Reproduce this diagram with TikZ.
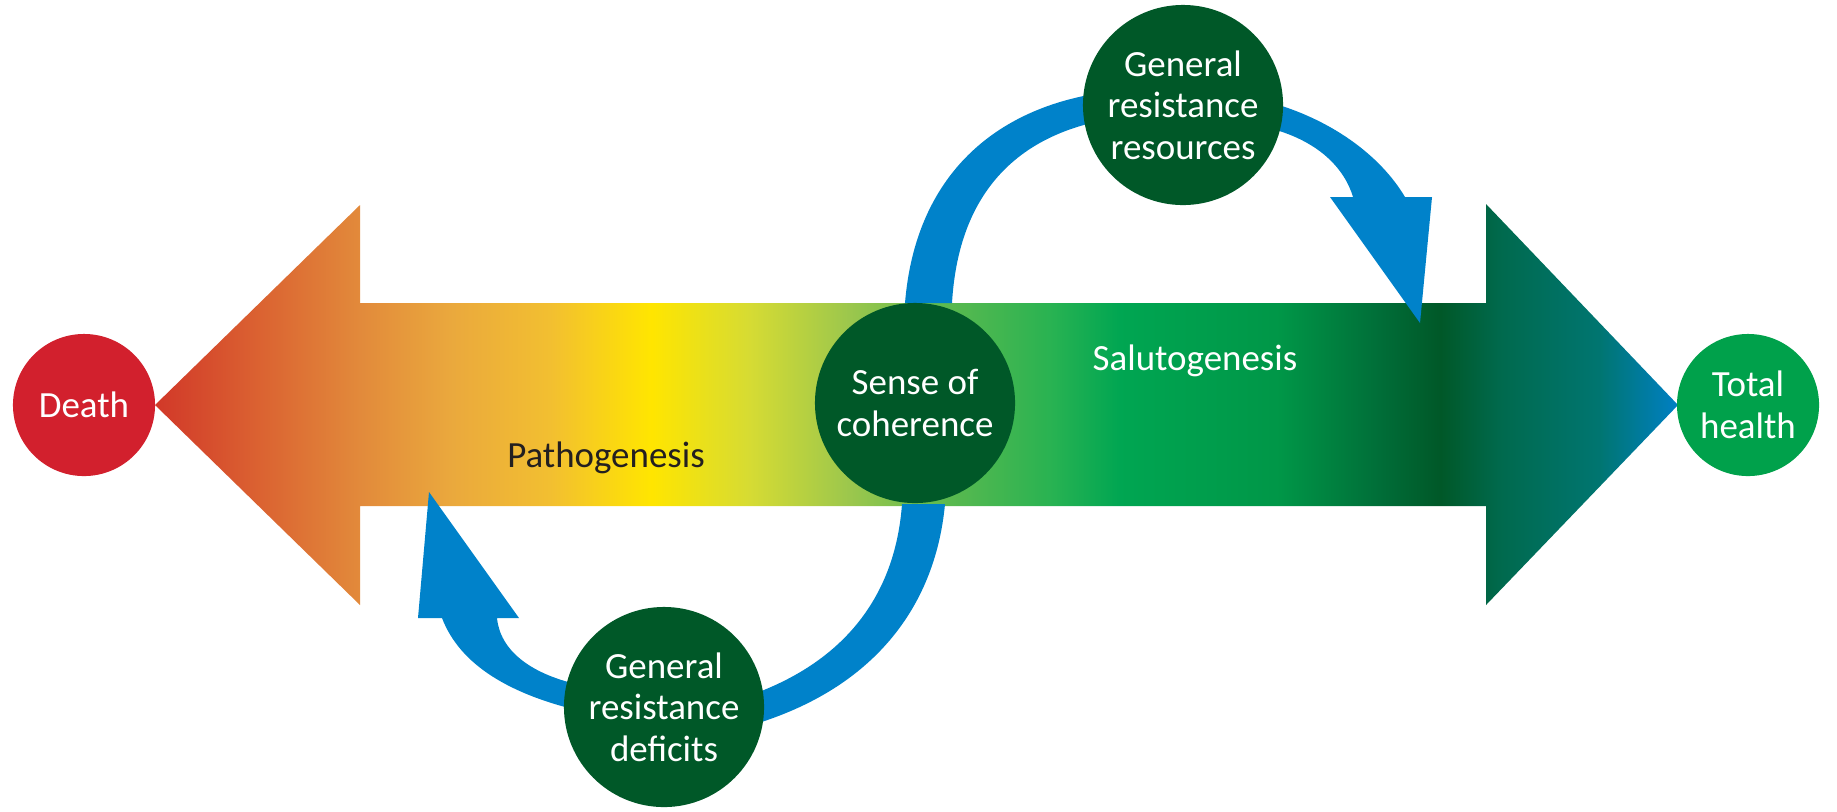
\documentclass[tikz,border=0pt]{standalone}
\usepackage{fontspec}
\setmainfont{Carlito}
\definecolor{deathred}{RGB}{210,32,45}
\definecolor{healthgreen}{RGB}{0,161,75}
\definecolor{hubgreen}{RGB}{0,88,40}
\definecolor{flowblue}{RGB}{0,130,202}
\definecolor{inkdark}{RGB}{35,31,32}
\usetikzlibrary{shapes}

\pgfdeclarehorizontalshading{lifeline}{100bp}{
  rgb(0bp)=(.82,.22,.16);
  rgb(25bp)=(.82,.22,.16);
  rgb(28.1bp)=(.855,.37,.19);
  rgb(31.7bp)=(.886,.54,.23);
  rgb(34.7bp)=(.918,.66,.24);
  rgb(38bp)=(.95,.75,.19);
  rgb(41.3bp)=(1,.9,0);
  rgb(44.5bp)=(.84,.86,.2);
  rgb(47.8bp)=(.61,.78,.3);
  rgb(51.1bp)=(.35,.725,.31);
  rgb(54.4bp)=(.16,.70,.32);
  rgb(56.7bp)=(0,.65,.32);
  rgb(61.9bp)=(0,.59,.28);
  rgb(65.2bp)=(0,.43,.22);
  rgb(67.2bp)=(0,.345,.157);
  rgb(69.2bp)=(0,.415,.305);
  rgb(72.4bp)=(0,.46,.44);
  rgb(75bp)=(0,.5,.77);
  rgb(100bp)=(0,.5,.77)}

\begin{document}
\begin{tikzpicture}[x=0.01cm, y=-0.01cm,
  every node/.style={font=\fontsize{10.5}{11.8}\selectfont},
  hub/.style={circle, fill=hubgreen, text=white, minimum size=2cm, inner sep=0pt, align=center},
  pole/.style={circle, text=white, minimum size=1.42cm, inner sep=0pt, align=center},
  flow/.style={fill=flowblue}]

  \useasboundingbox (0,0) rectangle (1837,811);

  % the double arrow
  \shade[shading=lifeline] (155,405) -- (360,205) -- (360,303) -- (1486,303) -- (1486,204) -- (1678,405)
    -- (1486,605) -- (1486,506) -- (360,506) -- (360,605) -- cycle;

  % blue loops
  \fill[flow] (905,303) .. controls (915,180) and (990,110) .. (1100,93) -- (1100,121)
    .. controls (1010,140) and (958,200) .. (952,303) -- cycle;
  \fill[flow] (1265,101) .. controls (1330,118) and (1380,155) .. (1405,197) -- (1432,197) -- (1420,323)
    -- (1330,197) -- (1353,197) .. controls (1345,170) and (1320,140) .. (1265,127) -- cycle;
  \fill[flow] (902,504) .. controls (895,600) and (840,665) .. (745,697) -- (745,727)
    .. controls (870,692) and (935,610) .. (945,504) -- cycle;
  \fill[flow] (585,712) .. controls (510,695) and (460,665) .. (442,618) -- (418,618) -- (429,492)
    -- (519,618) -- (497,618) .. controls (500,650) and (530,675) .. (585,686) -- cycle;

  \node[pole, fill=deathred] (death) at (84,405) {Death};
  \node[pole, fill=healthgreen] (health) at (1748,405) {Total\\health};
  \node[hub] (soc) at (915,403) {Sense of\\coherence};
  \node[hub] (grr) at (1183,105) {General\\resistance\\resources};
  \node[hub] (grd) at (664,707) {General\\resistance\\deficits};

  \node[text=inkdark] (patho) at (606,458) {Pathogenesis};
  \node[text=white] (saluto) at (1195,361) {Salutogenesis};
\end{tikzpicture}
\end{document}
